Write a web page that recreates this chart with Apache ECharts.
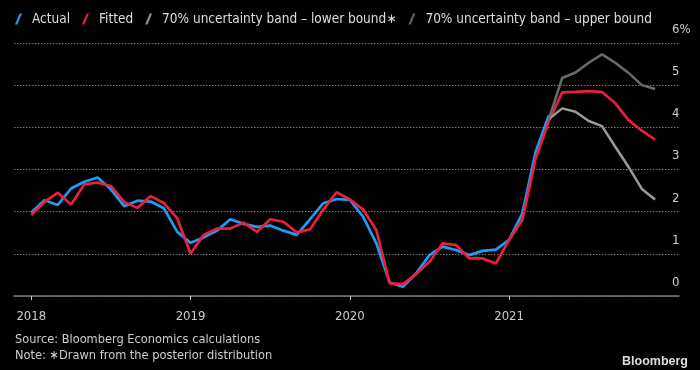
<!DOCTYPE html>
<html>
<head>
<meta charset="utf-8">
<script src="https://cdn.jsdelivr.net/npm/echarts@6/dist/echarts.min.js"></script>
<style>
html,body{margin:0;padding:0;background:#000;}
#chart{width:700px;height:370px;}
</style>
</head>
<body>
<div id="chart"></div>
<script>
// Monthly series starting Jan 2018 (index 0)
const yearTicks = [0, 12, 24, 36];
const yearLabels = ['2018', '2019', '2020', '2021'];
const seriesNames = ['Actual', 'Fitted', '70% uncertainty band – lower bound∗', '70% uncertainty band – upper bound'];

// Actual: Jan 2018 – Apr 2021
const actual = [
  1.98, 2.27, 2.16, 2.55, 2.71, 2.81, 2.53, 2.13, 2.26, 2.24, 2.08, 1.52,
  1.26, 1.39, 1.55, 1.82, 1.71, 1.64, 1.67, 1.55, 1.45, 1.82, 2.20, 2.30,
  2.28, 1.88, 1.25, 0.32, 0.22, 0.54, 0.97, 1.17, 1.09, 0.97, 1.07, 1.10,
  1.33, 1.96, 3.42, 4.29
];
// Fitted: Jan 2018 – Dec 2021
const fitted = [
  1.92, 2.23, 2.45, 2.17, 2.65, 2.69, 2.61, 2.23, 2.09, 2.37, 2.20, 1.84,
  1.01, 1.45, 1.60, 1.60, 1.74, 1.52, 1.82, 1.76, 1.51, 1.58, 2.05, 2.46,
  2.29, 2.05, 1.56, 0.30, 0.28, 0.52, 0.81, 1.25, 1.21, 0.89, 0.89, 0.77,
  1.33, 1.80, 3.26, 4.15, 4.83, 4.84, 4.86, 4.84, 4.57, 4.17, 3.92, 3.71
];
// Bands: Apr 2021 – Dec 2021
const bandStart = 39;
const lowerBound = [4.20, 4.45, 4.37, 4.15, 4.03, 3.54, 3.06, 2.54, 2.29];
const upperBound = [4.20, 5.17, 5.30, 5.53, 5.73, 5.53, 5.29, 5.00, 4.91];

const toPairs = (arr, start) => arr.map((v, i) => [start + i, v]);

const FONT = 'DejaVu Sans Condensed';
const chart = echarts.init(document.getElementById('chart'), null, {renderer: 'canvas'});
const icon = 'path://M0,12 L5,0 L7.5,0 L2.5,12 Z';

chart.setOption({
  backgroundColor: '#000',
  animation: false,
  legend: {
    data: seriesNames,
    left: 10,
    top: 7,
    itemWidth: 7,
    itemHeight: 12,
    itemGap: 12,
    icon: icon,
    textStyle: {color: '#dddddd', fontFamily: FONT, fontSize: 13.5, padding: [0, 0, 0, 5]},
    selectedMode: false
  },
  grid: {left: 14, right: 21, top: 43, bottom: 74},
  xAxis: {
    type: 'value',
    min: -1.3,
    max: 48.8,
    splitLine: {show: false},
    axisLine: {show: true, lineStyle: {color: '#7a7a7a', width: 1.5}},
    axisTick: {show: true, customValues: yearTicks, length: 4, lineStyle: {color: '#cccccc', width: 1}},
    axisLabel: {
      customValues: yearTicks,
      formatter: v => yearLabels[yearTicks.indexOf(Math.round(v))] || '',
      color: '#cccccc', fontFamily: FONT, fontSize: 13, margin: 14
    }
  },
  yAxis: {
    type: 'value',
    position: 'right',
    min: 0, max: 6, interval: 1,
    axisLine: {show: false},
    axisTick: {show: false},
    splitLine: {show: true, lineStyle: {color: '#7a7a7a', width: 1, type: [1.5, 1.5]}},
    axisLabel: {
      formatter: v => v === 6 ? '6%' : String(v),
      color: '#cccccc', fontFamily: FONT, fontSize: 13,
      align: 'left', verticalAlign: 'bottom', margin: -7, padding: [0, 0, 7, 0]
    }
  },
  graphic: [
    {type: 'text', left: 15, top: 333, style: {text: 'Source: Bloomberg Economics calculations', fill: '#cccccc', font: '12.7px "DejaVu Sans Condensed"'}},
    {type: 'text', left: 15, top: 349, style: {text: 'Note: ∗Drawn from the posterior distribution', fill: '#cccccc', font: '12.7px "DejaVu Sans Condensed"'}},
    {type: 'text', right: 12, top: 355, style: {text: 'Bloomberg', fill: '#dddddd', font: 'bold 12.5px "Liberation Sans"'}}
  ],
  series: [
    {name: seriesNames[2], type: 'line', data: toPairs(lowerBound, bandStart), showSymbol: false, z: 4,
      lineStyle: {color: '#9a9a9a', width: 2.5}, itemStyle: {color: '#8f8f8f'}},
    {name: seriesNames[3], type: 'line', data: toPairs(upperBound, bandStart), showSymbol: false, z: 4,
      lineStyle: {color: '#6a6a6a', width: 2.5}, itemStyle: {color: '#606060'}},
    {name: seriesNames[0], type: 'line', data: toPairs(actual, 0), showSymbol: false, z: 2,
      lineStyle: {color: '#1e9cf2', width: 2.7}, itemStyle: {color: '#1e9cf2'}},
    {name: seriesNames[1], type: 'line', data: toPairs(fitted, 0), showSymbol: false, z: 3,
      lineStyle: {color: '#ea1f3d', width: 2.7}, itemStyle: {color: '#ea1f3d'}}
  ]
});
</script>
</body>
</html>
